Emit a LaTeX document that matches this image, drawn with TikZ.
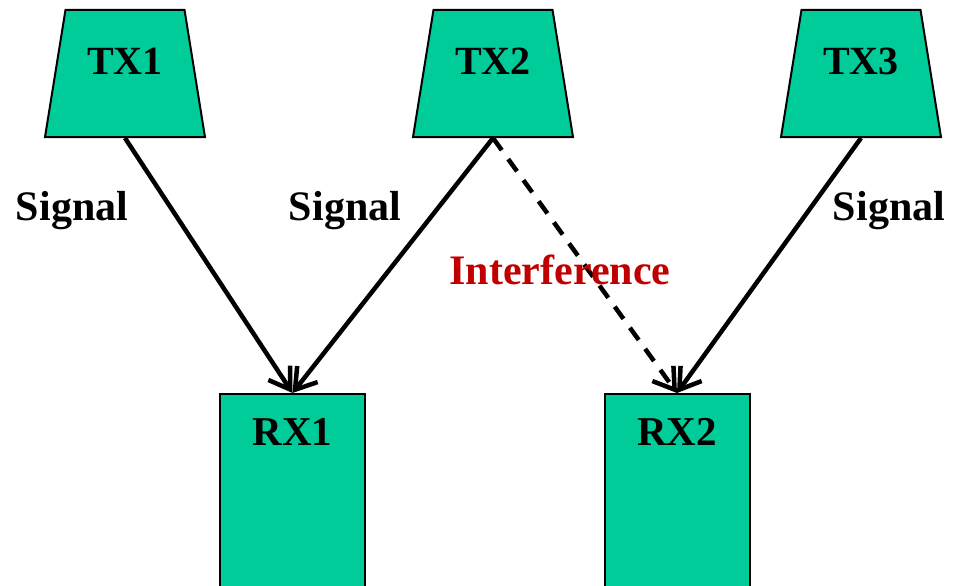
\documentclass[tikz,border=0pt]{standalone}
\usepackage{fontspec}
\setmainfont{Liberation Serif}
\usetikzlibrary{arrows.meta,shapes.geometric}
\definecolor{nodegreen}{RGB}{0,204,153}
\definecolor{intred}{RGB}{192,0,0}

\begin{document}
\begin{tikzpicture}[x=1pt,y=-1pt,
  tx/.style={trapezium,trapezium angle=76,trapezium stretches=true,draw,line width=2pt,fill=nodegreen,
    minimum width=160pt,minimum height=127pt,font=\fontsize{40}{44}\selectfont\bfseries,text height=26.5pt,text depth=23.5pt},
  rx/.style={rectangle,draw,line width=2pt,fill=nodegreen,anchor=north,minimum width=145pt,inner ysep=24pt,
    font=\fontsize{41}{45}\selectfont\bfseries,text height=27pt,text depth=160pt},
  lbl/.style={font=\fontsize{42}{46}\selectfont\bfseries,anchor=base},
  arr/.style={-{Straight Barb[length=20pt,width=26pt]},line width=4.5pt}]
\useasboundingbox (0,0) rectangle (959,586);
\node[tx] (tx1) at (125,73.5) {TX1};
\node[tx] (tx2) at (493,73.5) {TX2};
\node[tx] (tx3) at (861,73.5) {TX3};
\node[rx] (rx1) at (292.5,393) {RX1};
\node[rx] (rx2) at (677,393) {RX2};
\draw[arr] (tx1.south)--(rx1.north); \draw[arr] (tx2.south)--(rx1.north);
\draw[arr,dash pattern=on 15pt off 11pt] (tx2.south)--(rx2.north);
\draw[arr] (tx3.south)--(rx2.north);
\node[lbl] (sig1) at (72,220) {Signal};
\node[lbl] (sig2) at (345,220) {Signal};
\node[lbl] (sig3) at (889,220) {Signal};
\node[lbl,text=intred] (intf) at (560,284) {Interference};
\end{tikzpicture}
\end{document}
